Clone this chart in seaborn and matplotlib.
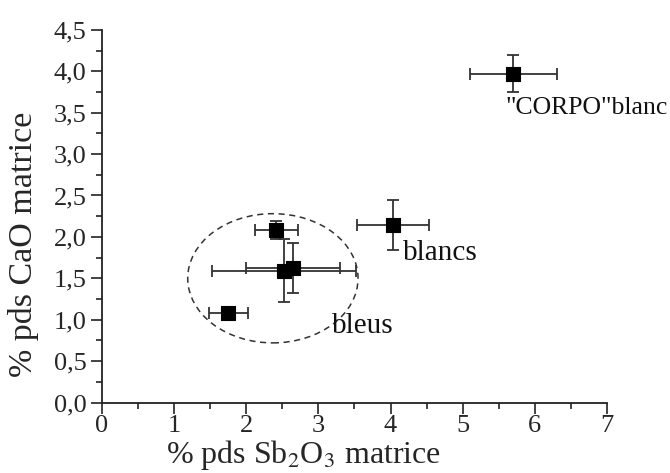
import numpy as np
import matplotlib.pyplot as plt
import seaborn as sns
from matplotlib.patches import Ellipse
from matplotlib.ticker import MultipleLocator, FuncFormatter

# Data
sb2o3 = [5.70, 4.03, 2.42, 2.52, 2.65, 1.75]
sb2o3_err = [0.60, 0.50, 0.30, 1.00, 0.65, 0.27]
cao = [3.97, 2.14, 2.08, 1.59, 1.62, 1.08]
cao_err = [0.22, 0.30, 0.11, 0.38, 0.30, 0.03]

labels = ['"CORPO"blanc', "blancs", "bleus"]
label_x = [5.59, 4.17, 3.19]
label_y = [3.56, 1.80, 0.92]
label_size = [18.5, 21, 21]

sns.set_theme(style="ticks")
plt.rcParams["font.family"] = ["Liberation Serif", "DejaVu Serif"]
plt.rcParams["mathtext.fontset"] = "stix"

fig = plt.figure(figsize=(6.7, 4.73), dpi=100)
ax = fig.add_axes([0.152, 0.149, 0.754, 0.788])

ax.errorbar(sb2o3, cao, xerr=sb2o3_err, yerr=cao_err, fmt="none",
            ecolor="#333333", elinewidth=1.3, capsize=4, capthick=1.3)
sns.scatterplot(x=sb2o3, y=cao, marker="s", s=100, color="black",
                edgecolor="black", ax=ax, zorder=3)

ax.add_patch(Ellipse((2.37, 1.50), 2.36, 1.56, fill=False, ls=(0, (4, 3)),
                     lw=1.1, ec="#333333"))

for t, x, y, s in zip(labels, label_x, label_y, label_size):
    ax.text(x, y, t, fontsize=s, va="center", ha="left", color="#111111",
            clip_on=False)

ax.set_xlim(0, 7)
ax.set_ylim(0, 4.5)
ax.xaxis.set_major_locator(MultipleLocator(1))
ax.xaxis.set_minor_locator(MultipleLocator(0.5))
ax.yaxis.set_major_locator(MultipleLocator(0.5))
ax.yaxis.set_minor_locator(MultipleLocator(0.25))
ax.yaxis.set_major_formatter(FuncFormatter(lambda v, p: f"{v:.1f}".replace(".", ",")))

ax.tick_params(which="major", length=8, width=1.2, labelsize=19, color="#222222")
ax.tick_params(which="minor", length=4, width=1.2, color="#222222")
ax.tick_params(axis="x", which="major", pad=1)
ax.tick_params(axis="y", which="major", pad=3)
ax.spines["right"].set_visible(False)
ax.spines["top"].set_visible(False)
for sp in ["left", "bottom"]:
    ax.spines[sp].set_linewidth(1.3)
    ax.spines[sp].set_color("#222222")

ax.set_xlabel(r"% pds Sb$_2$O$_3$ matrice", fontsize=23, va="center")
ax.xaxis.set_label_coords(0.40, -0.142)
ax.set_ylabel("% pds CaO matrice", fontsize=24.5, va="center")
ax.yaxis.set_label_coords(-0.155, 0.424)

fig.savefig("out.png", dpi=100)
